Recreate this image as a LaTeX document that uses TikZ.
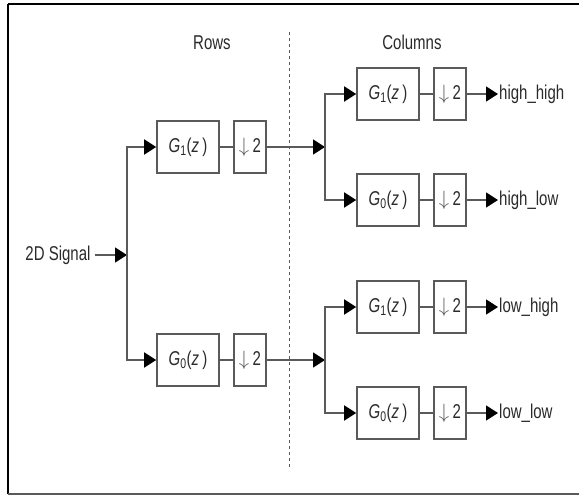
\documentclass[tikz,border=0pt]{standalone}
\usepackage{fontspec}
\setmainfont[FakeStretch=0.75]{Liberation Sans}
\usetikzlibrary{arrows.meta}
\usetikzlibrary{calc}
\definecolor{BLACK}{HTML}{000000}
\definecolor{GRAY}{HTML}{5A5A5A}
\definecolor{TEXT}{HTML}{2A2A2A}
\newcommand{\filt}[1]{\textit{G}\textsubscript{#1}(\textit{z\,})}
\newcommand{\dec}{{\color{GRAY}$\downarrow$}\,2}

\begin{document}
\begin{tikzpicture}[x=1pt, y=-1pt,
    every node/.style={font=\fontsize{20}{24}\selectfont, text=TEXT},
    filt/.style={draw=GRAY, line width=1.6pt, minimum width=62pt, minimum height=52pt, inner sep=0pt},
    dec/.style={draw=GRAY, line width=1.6pt, minimum width=32pt, minimum height=52pt, inner sep=0pt},
    wire/.style={GRAY, line width=1.6pt},
    feed/.style={wire, -{Triangle[length=12pt, width=15pt, color=BLACK]}}]
    \useasboundingbox (0,0) rectangle (579,496);
    \draw[BLACK, line width=2pt] (8,4) -- (600,4);
    \draw[BLACK, line width=1.4pt] (8,4) -- (8,494);
    \draw[GRAY, line width=1.4pt] (8,494) -- (600,494);
    \draw[GRAY, dashed, line width=1pt] (289,32) -- (289,468);
    \node (rows) at (212,43) {Rows};
    \node (cols) at (412,42) {Columns};
    \node[inner sep=0pt] (src) at (58,255) {2D Signal};
    \coordinate (split) at (127,255);
    \node[filt] (rg1) at (188,147) {\filt{1}};
    \node[dec] (rd1) at (250,147) {\dec};
    \node[filt] (rg0) at (188,360) {\filt{0}};
    \node[dec] (rd0) at (250,360) {\dec};
    \coordinate (hsplit) at (325,147);
    \coordinate (lsplit) at (325,360);
    \node[filt] (hg1) at (388,94) {\filt{1}};
    \node[dec] (hd1) at (450,94) {\dec};
    \node[filt] (hg0) at (388,200) {\filt{0}};
    \node[dec] (hd0) at (450,200) {\dec};
    \node[filt] (lg1) at (388,307) {\filt{1}};
    \node[dec] (ld1) at (450,307) {\dec};
    \node[filt] (lg0) at (388,413) {\filt{0}};
    \node[dec] (ld0) at (450,413) {\dec};
    \node[anchor=west, inner sep=1pt] (hh) at (498,94) {high\_high};
    \node[anchor=west, inner sep=1pt] (hl) at (498,200) {high\_low};
    \node[anchor=west, inner sep=1pt] (lh) at (498,307) {low\_high};
    \node[anchor=west, inner sep=1pt] (ll) at (498,413) {low\_low};
    \draw[feed] ($(src.east)+(4,0)$) -- (split);
    \draw[feed] (split) |- (rg1.west);
    \draw[feed] (split) |- (rg0.west);
    \draw[wire] (rg1) -- (rd1);
    \draw[wire] (rg0) -- (rd0);
    \draw[feed] (rd1) -- (hsplit);
    \draw[feed] (rd0) -- (lsplit);
    \draw[feed] (hsplit) |- (hg1.west);
    \draw[feed] (hsplit) |- (hg0.west);
    \draw[feed] (lsplit) |- (lg1.west);
    \draw[feed] (lsplit) |- (lg0.west);
    \draw[wire] (hg1) -- (hd1);
    \draw[wire] (hg0) -- (hd0);
    \draw[wire] (lg1) -- (ld1);
    \draw[wire] (lg0) -- (ld0);
    \draw[feed] (hd1) -- (hh.west);
    \draw[feed] (hd0) -- (hl.west);
    \draw[feed] (ld1) -- (lh.west);
    \draw[feed] (ld0) -- (ll.west);
\end{tikzpicture}
\end{document}
